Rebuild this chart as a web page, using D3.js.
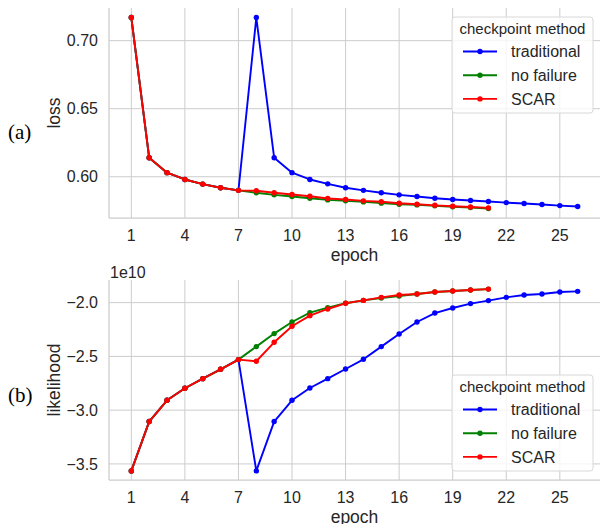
<!DOCTYPE html>
<html>
<head>
<meta charset="utf-8">
<script src="https://cdn.jsdelivr.net/npm/d3@7"></script>
<style>
  body { margin: 0; background: #fff; }
  svg { display: block; font-family: "Liberation Sans", Arial, sans-serif; }
</style>
</head>
<body>
<svg id="canvas" width="600" height="524"></svg>
<script>
// epochs for each method
const epochsTraditional = d3.range(1, 27)
const epochsShort = d3.range(1, 22)
const xTicks = [1, 4, 7, 10, 13, 16, 19, 22, 25]

// (a) loss
const lossTraditional = [0.717, 0.614, 0.603, 0.598, 0.5946, 0.5919, 0.590, 0.717, 0.614, 0.603,
  0.598, 0.5948, 0.5919, 0.590, 0.5882, 0.5867, 0.5855, 0.5842, 0.5833, 0.5825,
  0.5818, 0.581, 0.5803, 0.5796, 0.5788, 0.5781]
const lossNoFailure = [0.717, 0.614, 0.603, 0.598, 0.5946, 0.5919, 0.590, 0.5882, 0.5867, 0.5855,
  0.5842, 0.583, 0.5823, 0.5815, 0.5806, 0.5798, 0.5793, 0.5786, 0.5779, 0.5774, 0.5767]
const lossScar = [0.717, 0.614, 0.603, 0.598, 0.5946, 0.5919, 0.590, 0.5897, 0.5882, 0.587,
  0.5857, 0.584, 0.5833, 0.5823, 0.5816, 0.5805, 0.5798, 0.579, 0.5783, 0.5778, 0.5771]
const lossTicks = [0.60, 0.65, 0.70]

// (b) likelihood, in units of 1e10
const likeTraditional = [-3.565, -3.106, -2.908, -2.796, -2.707, -2.620, -2.530, -3.565, -3.106, -2.908,
  -2.794, -2.707, -2.617, -2.527, -2.409, -2.292, -2.180, -2.097, -2.050, -2.009,
  -1.981, -1.951, -1.929, -1.920, -1.901, -1.895]
const likeNoFailure = [-3.565, -3.106, -2.908, -2.796, -2.707, -2.620, -2.530, -2.409, -2.288, -2.180,
  -2.093, -2.046, -2.006, -1.979, -1.957, -1.939, -1.920, -1.901, -1.892, -1.883, -1.874]
const likeScar = [-3.565, -3.106, -2.908, -2.796, -2.707, -2.620, -2.530, -2.545, -2.369, -2.220,
  -2.121, -2.059, -2.006, -1.979, -1.951, -1.929, -1.920, -1.901, -1.892, -1.883, -1.874]
const likeTicks = [-3.5, -3.0, -2.5, -2.0]

const methods = ['traditional', 'no failure', 'SCAR']
const colors = {'traditional': '#0000ff', 'no failure': '#008000', 'SCAR': '#ff0000'}

const svg = d3.select('#canvas')
const textColor = '#262626'
const gridColor = '#cccccc'
const left = 109, right = 600

const pad = ext => {
    const m = (ext[1] - ext[0]) * 0.05
    return [ext[0] - m, ext[1] + m]
}

const x = d3.scaleLinear()
    .domain(pad(d3.extent(epochsTraditional)))
    .range([left, right])

const drawPanel = (opts)=>{
    const {top, bottom, series, yTicks, yFormat, yLabel, panelLabel, panelY, legendTop} = opts
    const allVals = series.flatMap(s => s.values)
    const y = d3.scaleLinear().domain(pad(d3.extent(allVals))).range([bottom, top])
    const g = svg.append('g')

    // grid
    g.append('g').selectAll('line.vg')
        .data(xTicks).enter().append('line')
        .attr('x1', d=>x(d)).attr('x2', d=>x(d))
        .attr('y1', top).attr('y2', bottom)
        .attr('stroke', gridColor).attr('stroke-width', 1)
    g.append('g').selectAll('line.hg')
        .data(yTicks).enter().append('line')
        .attr('x1', left).attr('x2', right)
        .attr('y1', d=>y(d)).attr('y2', d=>y(d))
        .attr('stroke', gridColor).attr('stroke-width', 1)

    // spines
    g.append('line').attr('x1', left).attr('x2', left).attr('y1', top).attr('y2', bottom)
        .attr('stroke', gridColor).attr('stroke-width', 1.25)
    g.append('line').attr('x1', left).attr('x2', right).attr('y1', bottom).attr('y2', bottom)
        .attr('stroke', gridColor).attr('stroke-width', 1.25)

    // tick labels
    g.append('g').selectAll('text')
        .data(xTicks).enter().append('text')
        .attr('x', d=>x(d)).attr('y', bottom + 17)
        .attr('dy', '0.35em')
        .attr('text-anchor', 'middle')
        .attr('font-size', 16).attr('fill', textColor)
        .text(d=>d)
    g.append('g').selectAll('text')
        .data(yTicks).enter().append('text')
        .attr('x', left - 11).attr('y', d=>y(d))
        .attr('dy', '0.35em')
        .attr('text-anchor', 'end')
        .attr('font-size', 16).attr('fill', textColor)
        .text(d=>yFormat(d).replace('-', '\u2212'))

    // axis labels
    g.append('text').attr('x', (left + right) / 2).attr('y', bottom + 37)
        .attr('dy', '0.35em').attr('text-anchor', 'middle')
        .attr('font-size', 17.5).attr('fill', textColor).text('epoch')
    g.append('text')
        .attr('transform', `translate(54,${(top + bottom) / 2}) rotate(-90)`)
        .attr('dy', '0.35em').attr('text-anchor', 'middle')
        .attr('font-size', 17.5).attr('fill', textColor).text(yLabel)
    g.append('text').attr('x', 8).attr('y', panelY)
        .attr('dy', '0.35em')
        .attr('font-family', '"Liberation Serif", "Times New Roman", serif')
        .attr('font-size', 21).attr('fill', '#000').text(panelLabel)

    // lines
    const line = d3.line().x(d=>x(d.e)).y(d=>y(d.v))
    series.forEach(s => {
        const pts = s.values.map((v, i) => ({e: s.epochs[i], v}))
        g.append('path').datum(pts)
            .attr('d', line)
            .attr('fill', 'none')
            .attr('stroke', colors[s.name])
            .attr('stroke-width', 1.9)
            .attr('stroke-linejoin', 'round')
        g.append('g').selectAll('circle')
            .data(pts).enter().append('circle')
            .attr('cx', d=>x(d.e)).attr('cy', d=>y(d.v))
            .attr('r', 2.7)
            .attr('fill', colors[s.name])
    })

    // legend
    const lg = g.append('g').attr('transform', `translate(452,${legendTop})`)
    lg.append('rect').attr('x', 0).attr('y', 0).attr('width', 141).attr('height', 96)
        .attr('rx', 3).attr('fill', '#fff').attr('fill-opacity', 0.8)
        .attr('stroke', '#d8d8d8').attr('stroke-width', 1)
    lg.append('text').attr('x', 70.5).attr('y', 12).attr('dy', '0.35em')
        .attr('text-anchor', 'middle').attr('font-size', 15).attr('fill', textColor)
        .text('checkpoint method')
    const items = lg.selectAll('g.item').data(methods).enter().append('g')
        .attr('transform', (d, i)=>`translate(0,${34.5 + i * 23.7})`)
    items.append('line').attr('x1', 11).attr('x2', 45)
        .attr('stroke', d=>colors[d]).attr('stroke-width', 1.9)
    items.append('circle').attr('cx', 28).attr('r', 2.7).attr('fill', d=>colors[d])
    items.append('text').attr('x', 59).attr('dy', '0.35em')
        .attr('font-size', 16).attr('fill', textColor).text(d=>d)
    return y
}

drawPanel({
    top: 8, bottom: 218,
    series: [
        {name: 'traditional', epochs: epochsTraditional, values: lossTraditional},
        {name: 'no failure', epochs: epochsShort, values: lossNoFailure},
        {name: 'SCAR', epochs: epochsShort, values: lossScar}
    ],
    yTicks: lossTicks, yFormat: d3.format('.2f'), yLabel: 'loss', panelLabel: '(a)',
    panelY: 132, legendTop: 17
})

drawPanel({
    top: 280, bottom: 480,
    series: [
        {name: 'traditional', epochs: epochsTraditional, values: likeTraditional},
        {name: 'no failure', epochs: epochsShort, values: likeNoFailure},
        {name: 'SCAR', epochs: epochsShort, values: likeScar}
    ],
    yTicks: likeTicks, yFormat: d3.format('.1f'), yLabel: 'likelihood', panelLabel: '(b)',
    panelY: 395, legendTop: 375
})

svg.append('text').attr('x', 110).attr('y', 272).attr('dy', '0.35em')
    .attr('font-size', 16).attr('fill', textColor).text('1e10')
</script>
</body>
</html>
